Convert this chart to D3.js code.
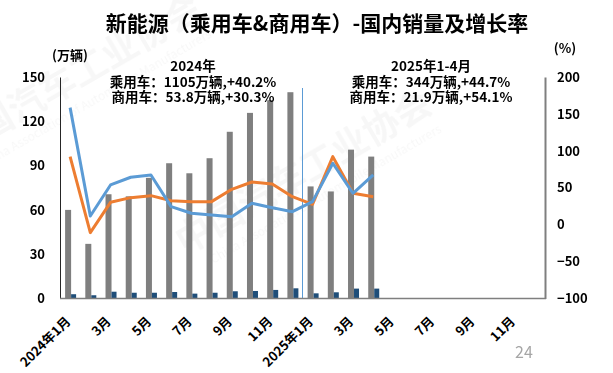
<!DOCTYPE html>
<meta charset="utf-8" />
<style>
  body { margin: 0; background: #fff; }
  text { font-family: "Noto Sans CJK SC", "Noto Sans", sans-serif; }
  .tick text { font-weight: bold; font-size: 13px; fill: #000; }
</style>
<svg width="613" height="373"></svg>
<script src="https://d3js.org/d3.v7.min.js"></script>
<script>
  // months on the x axis, 2024-01 .. 2025-12
  var months = [
    '2024-01','2024-02','2024-03','2024-04','2024-05','2024-06',
    '2024-07','2024-08','2024-09','2024-10','2024-11','2024-12',
    '2025-01','2025-02','2025-03','2025-04','2025-05','2025-06',
    '2025-07','2025-08','2025-09','2025-10','2025-11','2025-12'
  ];
  var tickLabels = {
    '2024-01': '2024年1月', '2024-03': '3月', '2024-05': '5月',
    '2024-07': '7月', '2024-09': '9月', '2024-11': '11月',
    '2025-01': '2025年1月', '2025-03': '3月', '2025-05': '5月',
    '2025-07': '7月', '2025-09': '9月', '2025-11': '11月'
  };
  // 万辆
  var passengerSales = [60, 37, 70.6, 69.2, 81.7, 91.6, 84.8, 95, 112.9, 125.7, 134.3, 139.7,
                        75.9, 72.5, 100.8, 96.1];
  var commercialSales = [2.9, 2.2, 4.6, 3.9, 3.9, 4.4, 3.3, 3.9, 4.9, 5.1, 5.8, 6.9,
                         3.5, 4.2, 6.7, 6.7];
  // %
  var passengerGrowth = [92.1, -10.8, 30.3, 36.6, 39.3, 32.5, 31.2, 31.2, 47.9, 57.8, 55.1, 37.9,
                         27.6, 92.1, 42.5, 37.9];
  var commercialGrowth = [158.5, 11.8, 53.8, 64.2, 67.3, 24.4, 15.4, 13.1, 10.8, 29.0, 23.0, 17.6,
                          31.2, 83.2, 42.5, 67.3];
  var leftTicks = [0, 30, 60, 90, 120, 150];
  var rightTicks = [-100, -50, 0, 50, 100, 150, 200];

  var svg = d3.select('svg'),
    plotL = 60, plotR = 545, plotT = 77, plotB = 298.5;

  var x = d3.scaleBand().domain(months).range([plotL, plotR]);
  var y = d3.scaleLinear().domain([0, 150]).range([plotB, plotT]);
  var y2 = d3.scaleLinear().domain([-100, 200]).range([plotB, plotT]);
  var cx = function (i) { return x(months[i]) + x.bandwidth() / 2; };

  // faint watermark
  var wm = svg.append('g').attr('opacity', 0.035).attr('fill', '#000');
  [[-45, 160], [185, 255]].forEach(function (p) {
    var g = wm.append('g').attr('transform', 'translate(' + p[0] + ',' + p[1] + ') rotate(-30)');
    g.append('text').attr('font-size', 36).attr('font-weight', 'bold').text('中国汽车工业协会');
    g.append('text').attr('y', 22).attr('x', 20).attr('font-size', 12)
      .text('China Association of Automobile Manufacturers');
  });

  // title
  svg.append('text').attr('x', 317).attr('y', 31).attr('text-anchor', 'middle')
    .attr('font-size', 21).attr('font-weight', 'bold').text('新能源（乘用车&商用车）-国内销量及增长率');
  svg.append('text').attr('x', 70).attr('y', 60).attr('text-anchor', 'middle')
    .attr('font-size', 13).attr('font-weight', 'bold').text('(万辆)');
  svg.append('text').attr('x', 565).attr('y', 53).attr('text-anchor', 'middle')
    .attr('font-size', 13).attr('font-weight', 'bold').text('(%)');

  // bars
  svg.selectAll('.pbar').data(passengerSales).enter().append('rect')
    .attr('class', 'pbar')
    .attr('x', function (d, i) { return cx(i) - 5; })
    .attr('width', 6)
    .attr('y', function (d) { return y(d); })
    .attr('height', function (d) { return y(0) - y(d); })
    .attr('fill', '#7f7f7f');
  svg.selectAll('.cbar').data(commercialSales).enter().append('rect')
    .attr('class', 'cbar')
    .attr('x', function (d, i) { return cx(i) + 1; })
    .attr('width', 5)
    .attr('y', function (d) { return y(d); })
    .attr('height', function (d) { return y(0) - y(d); })
    .attr('fill', '#1f4e79');

  // separator between years
  svg.append('line')
    .attr('x1', x('2025-01')).attr('x2', x('2025-01'))
    .attr('y1', 88).attr('y2', plotB)
    .attr('stroke', '#5b9bd5').attr('stroke-width', 1);

  // growth lines
  var line = d3.line().x(function (d, i) { return cx(i); }).y(function (d) { return y2(d); });
  svg.append('path').datum(passengerGrowth).attr('d', line)
    .attr('fill', 'none').attr('stroke', '#ed7d31').attr('stroke-width', 3).attr('stroke-linejoin', 'round');
  svg.append('path').datum(commercialGrowth).attr('d', line)
    .attr('fill', 'none').attr('stroke', '#5b9bd5').attr('stroke-width', 3).attr('stroke-linejoin', 'round');

  // axes
  var gl = svg.append('g').attr('transform', 'translate(' + plotL + ',0)')
    .call(d3.axisLeft(y).tickValues(leftTicks).tickSize(0).tickPadding(15));
  gl.select('.domain').attr('stroke', '#262626').attr('stroke-width', 1);
  var gr = svg.append('g').attr('transform', 'translate(' + plotR + ',0)')
    .call(d3.axisRight(y2).tickValues(rightTicks).tickSize(0).tickPadding(12));
  gr.select('.domain').attr('stroke', '#7f7f7f').attr('stroke-width', 2);
  svg.append('line').attr('x1', plotL).attr('x2', plotR + 1).attr('y1', plotB).attr('y2', plotB)
    .attr('stroke', '#7f7f7f').attr('stroke-width', 1.5);

  // x labels
  svg.selectAll('.xlab').data(months.filter(function (m) { return tickLabels[m]; }))
    .enter().append('text')
    .attr('class', 'xlab')
    .attr('transform', function (m) {
      return 'translate(' + (x(m) + x.bandwidth() / 2 - 2) + ',319) rotate(-45)';
    })
    .attr('dy', '0.35em')
    .attr('text-anchor', 'end')
    .attr('font-size', 13).attr('font-weight', 'bold')
    .text(function (m) { return tickLabels[m]; });

  // annotations
  var notes = [
    [193, ['2024年', '乘用车：1105万辆,+40.2%', '商用车：53.8万辆,+30.3%']],
    [431, ['2025年1-4月', '乘用车：344万辆,+44.7%', '商用车：21.9万辆,+54.1%']]
  ];
  notes.forEach(function (n) {
    n[1].forEach(function (t, i) {
      svg.append('text').attr('x', n[0]).attr('y', 71 + i * 15.5)
        .attr('text-anchor', 'middle').attr('font-size', 13.5).attr('font-weight', 'bold')
        .text(t);
    });
  });

  svg.append('text').attr('x', 524).attr('y', 358).attr('text-anchor', 'middle')
    .attr('font-size', 16).attr('fill', '#a6a6a6').text('24');
</script>
